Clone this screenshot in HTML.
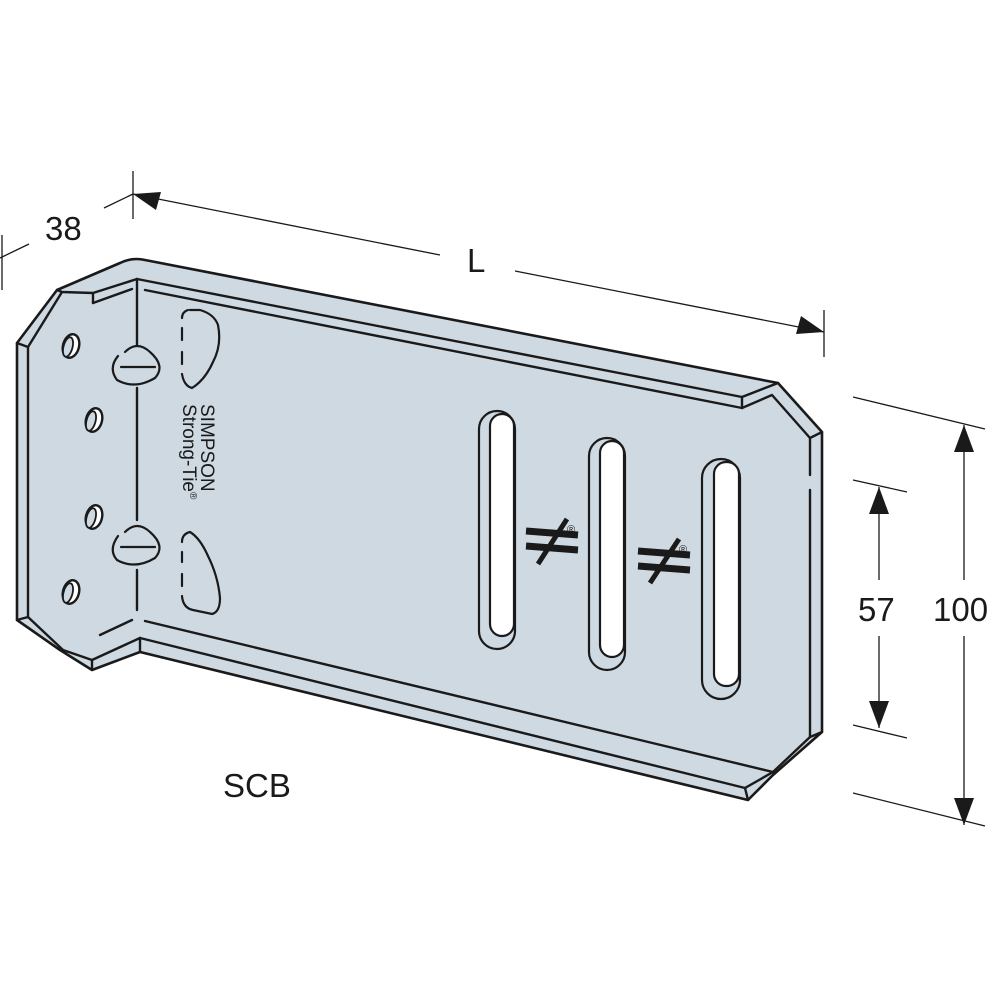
<!DOCTYPE html>
<html><head><meta charset="utf-8"><style>
html,body{margin:0;padding:0;background:#fff}
svg{display:block}
text{font-family:"Liberation Sans",Arial,sans-serif;fill:#1a1a1a}
</style></head><body>
<svg width="1000" height="1000" viewBox="0 0 1000 1000" xmlns="http://www.w3.org/2000/svg">
<g stroke="#1a1a1a" stroke-width="2.6" fill="#cfd9e2" stroke-linejoin="round" stroke-linecap="round">
<path d="M17,343 L57,290 L120,263 Q132,257 145,260 L778,383 L822,432 L822,732 L773,775 L748,800 L140,652 L92,670 L60,650 L17,620 Z"/>
</g>
<g stroke="#1a1a1a" stroke-width="2.4" fill="none" stroke-linejoin="round" stroke-linecap="round">
<path d="M28,347 L28,617"/>
<path d="M17,343 L28,347 L62,292"/>
<path d="M17,620 L28,617 L63,650"/>
<path d="M57,290 L62,292 L93,293 L93,303"/>
<path d="M93,293 L137,279"/>
<path d="M93,303 L132,289"/>
<path d="M63,650 L92,660 L92,670"/>
<path d="M92,660 L140,638"/>
<path d="M100,635 L132,620"/>
<path d="M137,279 L137,345 M137,388 L137,520 M137,570 L137,610"/>
<path d="M137,279 L742,397"/>
<path d="M145,290 L742,408"/>
<path d="M742,397 L742,408"/>
<path d="M742,397 L778,383"/>
<path d="M742,408 L772,395 L810,438 L810,475 M810,490 L810,720 L810,737 L773,772 L745,788"/>
<path d="M822,432 L810,438 M822,732 L810,737"/>
<path d="M145,621 L773,772"/>
<path d="M140,638 L745,788"/>
<path d="M140,638 L140,652"/>
<path d="M745,788 L748,800"/>
</g>
<g stroke="#1a1a1a" stroke-width="2.4" fill="#fff">
<ellipse cx="71" cy="346" rx="8" ry="12" transform="rotate(15 71 346)"/>
<ellipse cx="94" cy="420" rx="8" ry="12" transform="rotate(15 94 420)"/>
<ellipse cx="94" cy="517" rx="8" ry="12" transform="rotate(15 94 517)"/>
<ellipse cx="71" cy="592" rx="8" ry="12" transform="rotate(15 71 592)"/>
</g>
<g stroke="#1a1a1a" stroke-width="1.8" fill="#cfd9e2">
<ellipse cx="68" cy="347" rx="4.5" ry="10" transform="rotate(15 68 347)"/>
<ellipse cx="91" cy="421" rx="4.5" ry="10" transform="rotate(15 91 421)"/>
<ellipse cx="91" cy="518" rx="4.5" ry="10" transform="rotate(15 91 518)"/>
<ellipse cx="68" cy="593" rx="4.5" ry="10" transform="rotate(15 68 593)"/>
</g>
<g stroke="#1a1a1a" stroke-width="2.2" fill="none" stroke-linecap="round">
<path d="M125,352 Q137,340 150,352 M118,356 Q108,368 117,380 Q135,390 155,378 Q166,366 150,352"/>
<path d="M121,367 L155,367"/>
<path d="M125,532 Q137,520 150,532 M118,536 Q108,550 117,560 Q135,570 155,558 Q166,546 150,532"/>
<path d="M121,547 L155,547"/>
<path d="M188,310 Q182,312 182,318 M182,328 L182,340 M182,352 L182,364 M182,374 Q184,386 192,388 Q205,380 213,362 Q222,345 218,325 Q214,314 200,310 L190,310"/>
<path d="M190,532 Q182,534 182,542 M182,552 L182,562 M182,574 L182,586 M182,596 Q183,608 193,610 L212,614 Q220,612 220,598 Q218,576 208,556 Q200,538 190,532"/>
</g>
<text transform="translate(201,404) rotate(90)" font-size="19">SIMPSON</text>
<text transform="translate(183,404) rotate(90)" font-size="19">Strong-Tie<tspan font-size="10" dy="-7">®</tspan></text>
<g stroke="#1a1a1a" stroke-width="2.2">
<rect x="479" y="411" width="36" height="238" rx="18" fill="#cfd9e2"/>
<rect x="490" y="414" width="24" height="222" rx="12" fill="#fff"/>
<rect x="589" y="438" width="36" height="232" rx="18" fill="#cfd9e2"/>
<rect x="600" y="441" width="24" height="216" rx="12" fill="#fff"/>
<rect x="702" y="459" width="38" height="240" rx="19" fill="#cfd9e2"/>
<rect x="714" y="462" width="25" height="224" rx="12" fill="#fff"/>
</g>
<g stroke="#1a1a1a" fill="none">
<path d="M526,531 L578,535 M526,546 L578,550" stroke-width="7"/>
<path d="M567,519 L538,564" stroke-width="5"/>
<path d="M638,551 L690,555 M638,566 L690,570" stroke-width="7"/>
<path d="M679,539 L650,583" stroke-width="5"/>
</g>
<text x="567" y="533" font-size="11">®</text>
<text x="679" y="553" font-size="11">®</text>
<g stroke="#1a1a1a" stroke-width="1.3" fill="none">
<path d="M133,171 L133,219"/>
<path d="M104,208 L133,194"/>
<path d="M0,258 L29,244"/>
<path d="M2,235 L2,290"/>
<path d="M133,194 L440,255 M515,271 L824,332"/>
<path d="M824,310 L824,357"/>
<path d="M853,397 L985,429 M853,793 L985,826"/>
<path d="M853,480 L907,492 M853,725 L907,738"/>
<path d="M964,425 L964,580 M964,636 L964,825"/>
<path d="M879,487 L879,580 M879,636 L879,728"/>
</g>
<g fill="#1a1a1a">
<polygon points="133,194 161,192 156,210"/>
<polygon points="824,332 796,334 801,316"/>
<polygon points="964,425 954,452 974,452"/>
<polygon points="964,825 954,798 974,798"/>
<polygon points="879,487 869,514 889,514"/>
<polygon points="879,728 869,701 889,701"/>
</g>
<text x="45" y="240" font-size="33">38</text>
<text x="467" y="272" font-size="33">L</text>
<text x="858" y="621" font-size="33">57</text>
<text x="933" y="621" font-size="33">100</text>
<text x="223" y="797" font-size="33">SCB</text>
</svg>
</body></html>
